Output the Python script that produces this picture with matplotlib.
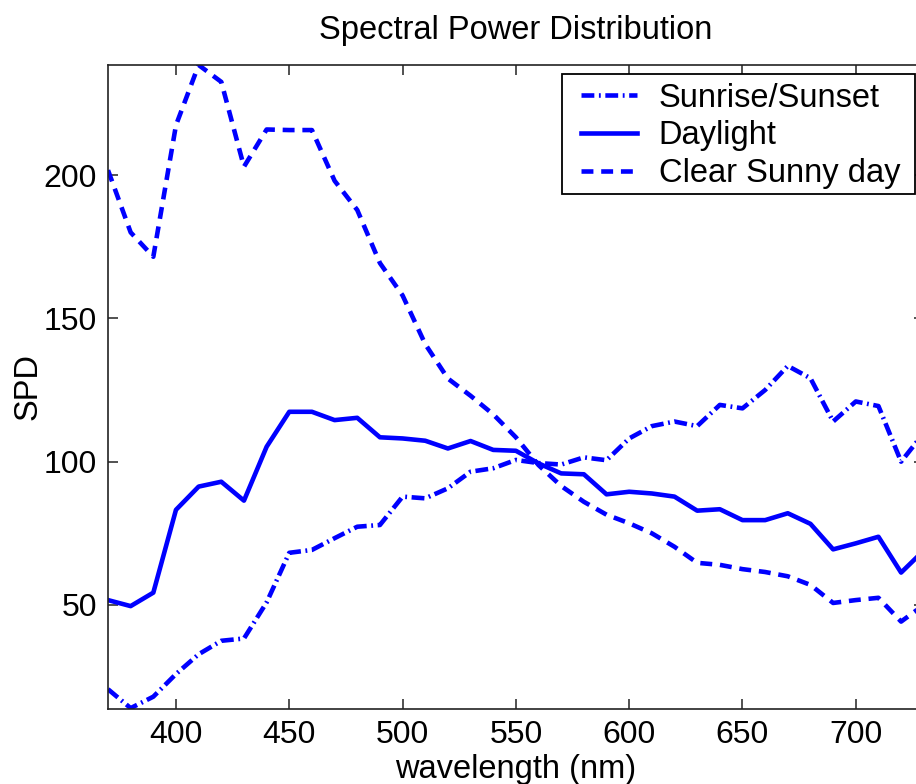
import numpy as np
import matplotlib
matplotlib.use("Agg")
import matplotlib.pyplot as plt
from matplotlib.patches import Rectangle

plt.rcParams['font.family'] = ['Liberation Sans', 'DejaVu Sans']

wavelength = list(range(370, 731, 10))

sunrise = [20.6, 14.0, 18.0, 25.9, 32.8, 37.5, 38.3, 50.9, 68.2, 69.2,
           73.3, 77.3, 77.9, 87.8, 87.2, 90.7, 96.5, 97.7, 100.6, 99.5,
           99.0, 101.5, 100.5, 108.1, 112.4, 114.0, 112.4, 119.8, 118.6, 125.0,
           133.4, 129.1, 114.0, 121.0, 119.4, 100.0, 110.0]

daylight = [51.7, 49.6, 54.3, 83.2, 91.3, 93.0, 86.4, 105.2, 117.4, 117.4,
            114.5, 115.3, 108.5, 108.1, 107.3, 104.6, 107.2, 104.1, 103.8, 99.4,
            95.9, 95.6, 88.6, 89.5, 88.9, 87.8, 82.9, 83.4, 79.6, 79.6,
            82.0, 78.3, 69.4, 71.5, 73.8, 61.3, 69.0]

sunny = [201.7, 180.0, 171.5, 217.4, 238.4, 232.5, 202.9, 215.9, 215.7, 215.7,
         198.0, 187.8, 169.3, 158.0, 141.0, 129.0, 123.0, 116.5, 108.5, 98.8,
         91.5, 86.0, 81.5, 78.5, 75.0, 70.3, 64.7, 64.0, 62.5, 61.5,
         60.0, 57.0, 50.7, 51.7, 52.5, 44.2, 50.0]

labels = ['Sunrise/Sunset', 'Daylight', 'Clear Sunny day']

W, H = 916, 784
fig = plt.figure(figsize=(W / 100, H / 100), dpi=100)
left, bottom = 108 / W, (H - 709) / H
xmin, xmax = 370, 730
px_per_nm = (290.6 - 177.3) / 50.0
right_px = 108 + (xmax - xmin) * px_per_nm
ax = fig.add_axes([left, bottom, (right_px - 108) / W, (709 - 65) / H])

blue = '#0000ff'
lw = 3.3
ax.plot(wavelength, sunrise, color=blue, lw=lw, dashes=(2.8, 1.0, 0.4, 1.0),
        label=labels[0])
ax.plot(wavelength, daylight, color=blue, lw=lw, ls='-', label=labels[1])
ax.plot(wavelength, sunny, color=blue, lw=lw, dashes=(2.6, 1.7), label=labels[2])

ax.set_xlim(xmin, xmax)
ax.set_ylim(13.7, 238.4)
ax.set_xticks([400, 450, 500, 550, 600, 650, 700])
ax.set_yticks([50, 100, 150, 200])

fs = 23.5
ax.tick_params(direction='in', length=7, width=1.1, labelsize=23,
               top=True, right=True, pad=8, colors='#222222', labelcolor='black')
for s in ax.spines.values():
    s.set_linewidth(1.2)
    s.set_color('#222222')

ax.set_xlabel('wavelength (nm)', fontsize=fs, labelpad=3)
ax.set_ylabel('SPD', fontsize=fs, labelpad=0)
ax.set_title('Spectral Power Distribution', fontsize=fs, pad=19)

leg = ax.legend(loc='upper left', bbox_to_anchor=(576 / W, (H - 78) / H),
                bbox_transform=fig.transFigure, borderaxespad=0,
                fontsize=fs, frameon=False, handlelength=1.72, handletextpad=0.66,
                labelspacing=0.2, borderpad=0.15)

fig.canvas.draw()
bb = leg.get_window_extent()
x0_px, x1_px = 562, 915
top_px = 74
rect = Rectangle((x0_px / W, bb.y0 / H), (x1_px - x0_px) / W, (H - top_px) / H - bb.y0 / H,
                 transform=fig.transFigure, facecolor='white', edgecolor='black',
                 linewidth=1.3, zorder=4)
fig.add_artist(rect)
leg.set_zorder(5)
leg.remove()
fig.add_artist(leg)

fig.savefig('out.png', dpi=100)
